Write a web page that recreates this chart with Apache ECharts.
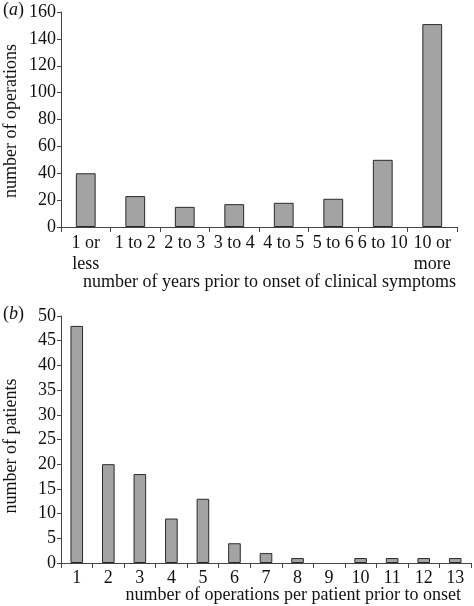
<!DOCTYPE html>
<html><head><meta charset="utf-8">
<script src="https://cdn.jsdelivr.net/npm/echarts@6/dist/echarts.min.js"></script>
<style>html,body{margin:0;padding:0;background:#fff}#c{width:474px;height:606px}</style>
</head><body><div id="c"></div>
<script>
const catsA = ['1 or\nless','1 to 2','2 to 3','3 to 4','4 to 5','5 to 6','6 to 10','10 or\nmore'];
const valsA = [40, 23, 15, 17, 18, 21, 50, 151];
const catsB = ['1','2','3','4','5','6','7','8','9','10','11','12','13'];
const valsB = [48, 20, 18, 9, 13, 4, 2, 1, 0, 1, 1, 1, 1];
const ticksA = {min: 0, max: 160, interval: 20};
const ticksB = {min: 0, max: 50, interval: 5};

const FONT = '"Liberation Serif", "Times New Roman", serif';
const FS = 18;
const AX = '#444';
const TXT = '#111';
const chart = echarts.init(document.getElementById('c'));
const lbl = (extra) => Object.assign({color: TXT, fontFamily: FONT, fontSize: FS}, extra);
const axisLine = {show: true, lineStyle: {color: AX, width: 1}};
const barStyle = {color: '#a3a3a3', borderColor: '#2a2a2a', borderWidth: 1};
const toBars = (vals) => vals.map(v => v === 0 ? {value: v, itemStyle: {borderWidth: 0}} : v);
chart.setOption({
  animation: false,
  grid: [
    {left: 61, top: 12, width: 396, height: 215},
    {left: 61, top: 316, width: 410, height: 247}
  ],
  xAxis: [
    {type: 'category', gridIndex: 0, data: catsA, axisLine: axisLine,
      axisTick: {show: true, length: 5, alignWithLabel: false, lineStyle: {color: AX}},
      axisLabel: lbl({margin: 6, lineHeight: 21, interval: 0})},
    {type: 'category', gridIndex: 1, data: catsB, axisLine: axisLine,
      axisTick: {show: true, length: 5, alignWithLabel: false, lineStyle: {color: AX}},
      axisLabel: lbl({margin: 6, interval: 0})}
  ],
  yAxis: [
    {type: 'value', gridIndex: 0, min: ticksA.min, max: ticksA.max, interval: ticksA.interval,
      axisLine: axisLine, splitLine: {show: false},
      axisTick: {show: true, length: 4, lineStyle: {color: AX}}, axisLabel: lbl({margin: 5})},
    {type: 'value', gridIndex: 1, min: ticksB.min, max: ticksB.max, interval: ticksB.interval,
      axisLine: axisLine, splitLine: {show: false},
      axisTick: {show: true, length: 4, lineStyle: {color: AX}}, axisLabel: lbl({margin: 5})}
  ],
  series: [
    {type: 'bar', xAxisIndex: 0, yAxisIndex: 0, data: toBars(valsA), barWidth: '40%', itemStyle: barStyle},
    {type: 'bar', xAxisIndex: 1, yAxisIndex: 1, data: toBars(valsB), barWidth: '40%', itemStyle: barStyle}
  ],
  graphic: [
    {type: 'text', left: 3, top: 1, style: {text: '({i|a})', font: FS + 'px ' + FONT, fill: TXT,
      rich: {i: {fontStyle: 'italic', fontFamily: FONT, fontSize: FS}}}},
    {type: 'text', left: 3, top: 305, style: {text: '({i|b})', font: FS + 'px ' + FONT, fill: TXT,
      rich: {i: {fontStyle: 'italic', fontFamily: FONT, fontSize: FS}}}},
    {type: 'text', x: 11, y: 121, rotation: Math.PI / 2,
      style: {text: 'number of operations', font: FS + 'px ' + FONT, fill: TXT, align: 'center', verticalAlign: 'middle'}},
    {type: 'text', x: 11, y: 446, rotation: Math.PI / 2,
      style: {text: 'number of patients', font: FS + 'px ' + FONT, fill: TXT, align: 'center', verticalAlign: 'middle'}},
    {type: 'text', x: 456, y: 282,
      style: {text: 'number of years prior to onset of clinical symptoms', font: FS + 'px ' + FONT, fill: TXT, align: 'right', verticalAlign: 'middle'}},
    {type: 'text', x: 461, y: 595,
      style: {text: 'number of operations per patient prior to onset', font: FS + 'px ' + FONT, fill: TXT, align: 'right', verticalAlign: 'middle'}}
  ]
});
</script></body></html>
